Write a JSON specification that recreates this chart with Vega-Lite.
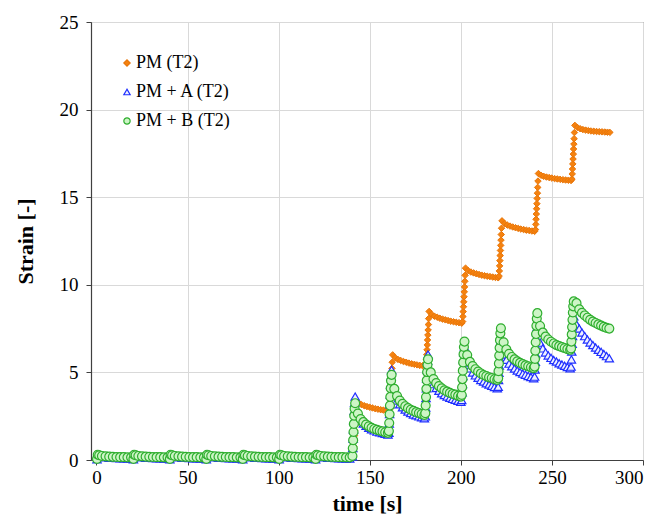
{
"$schema":"https://vega.github.io/schema/vega-lite/v6.json",
"autosize":{"type":"none"},
"padding":{"left":91,"top":22,"right":14,"bottom":62},
"width":552,"height":438,
"background":"white",
"config":{
"font":"Liberation Serif",
"view":{"stroke":"#595959","strokeWidth":1},
"axis":{"labelFont":"Liberation Serif","titleFont":"Liberation Serif","labelFontSize":19,"titleFontSize":22,"labelColor":"#000","titleColor":"#000","gridColor":"#d9d9d9","gridWidth":1,"domainColor":"#404040","tickColor":"#404040","tickSize":5,"domainWidth":1.2,"titleFontWeight":"bold"},
"legend":{"orient":"none","legendX":27,"legendY":32,"labelFontSize":18,"labelFont":"Liberation Serif","labelColor":"#000","padding":0,"rowPadding":11,"symbolSize":40,"symbolStrokeWidth":1.2,"labelOffset":0,"title":null}
},
"encoding":{
"x":{"field":"t","type":"quantitative","scale":{"domain":[-3,300],"nice":false,"zero":false},"axis":{"values":[0,50,100,150,200,250,300],"title":"time [s]","labelPadding":3,"titlePadding":6,"gridOpacity":{"condition":{"test":"datum.value == 0","value":0},"value":1}}},
"y":{"field":"v","type":"quantitative","scale":{"domain":[0,25],"nice":false},"axis":{"values":[0,5,10,15,20,25],"title":"Strain [-]","labelPadding":8,"titlePadding":22}}
},
"layer":[
{"data":{"values":[
{"t":0.5,"v":0.05},{"t":1.5,"v":0.2},{"t":5,"v":0.15},{"t":10,"v":0.12},{"t":15,"v":0.11},{"t":19,"v":0.1},
{"t":20.5,"v":0.05},{"t":21.5,"v":0.2},{"t":25,"v":0.15},{"t":30,"v":0.12},{"t":35,"v":0.11},{"t":39,"v":0.1},
{"t":40.5,"v":0.05},{"t":41.5,"v":0.2},{"t":45,"v":0.15},{"t":50,"v":0.12},{"t":55,"v":0.11},{"t":59,"v":0.1},
{"t":60.5,"v":0.05},{"t":61.5,"v":0.2},{"t":65,"v":0.15},{"t":70,"v":0.12},{"t":75,"v":0.11},{"t":79,"v":0.1},
{"t":80.5,"v":0.05},{"t":81.5,"v":0.2},{"t":85,"v":0.15},{"t":90,"v":0.12},{"t":95,"v":0.11},{"t":99,"v":0.1},
{"t":100.5,"v":0.05},{"t":101.5,"v":0.2},{"t":105,"v":0.15},{"t":110,"v":0.12},{"t":115,"v":0.11},{"t":119,"v":0.1},
{"t":120.5,"v":0.05},{"t":121.5,"v":0.2},{"t":125,"v":0.15},{"t":130,"v":0.12},{"t":135,"v":0.11},{"t":139,"v":0.1},
{"t":141,"v":0.2},{"t":141.15,"v":0.5},{"t":141.3,"v":0.79},{"t":141.45,"v":1.09},{"t":141.6,"v":1.39},{"t":141.75,"v":1.68},{"t":141.9,"v":1.98},{"t":142.05,"v":2.28},{"t":142.2,"v":2.61},{"t":142.35,"v":2.97},{"t":142.6,"v":3.4},
{"t":144,"v":3.25},{"t":145.5,"v":3.16},{"t":147,"v":3.1},{"t":148.5,"v":3.05},{"t":150,"v":3.01},{"t":151.5,"v":2.97},{"t":153,"v":2.93},{"t":154.5,"v":2.9},{"t":156,"v":2.87},{"t":157.5,"v":2.85},{"t":159,"v":2.82},{"t":160.5,"v":2.8},
{"t":161,"v":2.9},{"t":161.15,"v":3.18},{"t":161.3,"v":3.47},{"t":161.45,"v":3.76},{"t":161.6,"v":4.05},{"t":161.75,"v":4.34},{"t":161.9,"v":4.62},{"t":162.05,"v":4.91},{"t":162.2,"v":5.23},{"t":162.35,"v":5.58},{"t":162.6,"v":6.0},
{"t":164,"v":5.84},{"t":165.5,"v":5.74},{"t":167,"v":5.68},{"t":168.5,"v":5.62},{"t":170,"v":5.58},{"t":171.5,"v":5.53},{"t":173,"v":5.49},{"t":174.5,"v":5.46},{"t":176,"v":5.43},{"t":177.5,"v":5.4},{"t":179,"v":5.38},{"t":180.5,"v":5.35},
{"t":181,"v":5.44},{"t":181.15,"v":5.73},{"t":181.3,"v":6.01},{"t":181.45,"v":6.29},{"t":181.6,"v":6.57},{"t":181.75,"v":6.85},{"t":181.9,"v":7.13},{"t":182.05,"v":7.42},{"t":182.2,"v":7.73},{"t":182.35,"v":8.07},{"t":182.6,"v":8.48},
{"t":184,"v":8.31},{"t":185.5,"v":8.21},{"t":187,"v":8.15},{"t":188.5,"v":8.09},{"t":190,"v":8.04},{"t":191.5,"v":8.0},{"t":193,"v":7.96},{"t":194.5,"v":7.92},{"t":196,"v":7.89},{"t":197.5,"v":7.86},{"t":199,"v":7.84},{"t":200.5,"v":7.81},
{"t":201,"v":7.9},{"t":201.15,"v":8.19},{"t":201.3,"v":8.47},{"t":201.45,"v":8.75},{"t":201.6,"v":9.03},{"t":201.75,"v":9.32},{"t":201.9,"v":9.6},{"t":202.05,"v":9.88},{"t":202.2,"v":10.2},{"t":202.35,"v":10.54},{"t":202.6,"v":10.95},
{"t":204,"v":10.81},{"t":205.5,"v":10.73},{"t":207,"v":10.68},{"t":208.5,"v":10.63},{"t":210,"v":10.59},{"t":211.5,"v":10.55},{"t":213,"v":10.52},{"t":214.5,"v":10.49},{"t":216,"v":10.47},{"t":217.5,"v":10.44},{"t":219,"v":10.42},{"t":220.5,"v":10.4},
{"t":221,"v":10.5},{"t":221.15,"v":10.79},{"t":221.3,"v":11.08},{"t":221.45,"v":11.38},{"t":221.6,"v":11.67},{"t":221.75,"v":11.96},{"t":221.9,"v":12.25},{"t":222.05,"v":12.55},{"t":222.2,"v":12.87},{"t":222.35,"v":13.23},{"t":222.6,"v":13.65},
{"t":224,"v":13.5},{"t":225.5,"v":13.41},{"t":227,"v":13.35},{"t":228.5,"v":13.3},{"t":230,"v":13.26},{"t":231.5,"v":13.22},{"t":233,"v":13.18},{"t":234.5,"v":13.15},{"t":236,"v":13.12},{"t":237.5,"v":13.1},{"t":239,"v":13.07},{"t":240.5,"v":13.05},
{"t":241,"v":13.15},{"t":241.15,"v":13.45},{"t":241.3,"v":13.74},{"t":241.45,"v":14.04},{"t":241.6,"v":14.34},{"t":241.75,"v":14.63},{"t":241.9,"v":14.93},{"t":242.05,"v":15.23},{"t":242.2,"v":15.56},{"t":242.35,"v":15.92},{"t":242.6,"v":16.35},
{"t":244,"v":16.25},{"t":245.5,"v":16.19},{"t":247,"v":16.15},{"t":248.5,"v":16.12},{"t":250,"v":16.09},{"t":251.5,"v":16.06},{"t":253,"v":16.04},{"t":254.5,"v":16.02},{"t":256,"v":16.0},{"t":257.5,"v":15.98},{"t":259,"v":15.97},{"t":260.5,"v":15.95},
{"t":261,"v":16.04},{"t":261.15,"v":16.33},{"t":261.3,"v":16.61},{"t":261.45,"v":16.9},{"t":261.6,"v":17.18},{"t":261.75,"v":17.46},{"t":261.9,"v":17.75},{"t":262.05,"v":18.03},{"t":262.2,"v":18.34},{"t":262.35,"v":18.69},{"t":262.6,"v":19.1},
{"t":264,"v":18.98},{"t":265.5,"v":18.91},{"t":267,"v":18.86},{"t":268.5,"v":18.83},{"t":270,"v":18.8},{"t":271.5,"v":18.78},{"t":273,"v":18.76},{"t":274.5,"v":18.75},{"t":276,"v":18.74},{"t":277.5,"v":18.73},{"t":279,"v":18.72},{"t":280.5,"v":18.71},{"t":281.8,"v":18.7}
]},
"mark":{"type":"point","filled":true,"opacity":1,"strokeWidth":1,"size":42},
"encoding":{
"fill":{"datum":"PM (T2)","type":"nominal","scale":{"domain":["PM (T2)","PM + A (T2)","PM + B (T2)"],"range":["#f5820f","#eef0ff","#cdf5c6"]}},
"stroke":{"datum":"PM (T2)","type":"nominal","scale":{"domain":["PM (T2)","PM + A (T2)","PM + B (T2)"],"range":["#e8760a","#1f2fff","#2fae2f"]}},
"shape":{"datum":"PM (T2)","type":"nominal","scale":{"domain":["PM (T2)","PM + A (T2)","PM + B (T2)"],"range":["diamond","triangle-up","circle"]}}
}},
{"data":{"values":[
{"t":0.3,"v":0.04},{"t":0.7,"v":0.26},{"t":1.5,"v":0.22},{"t":3,"v":0.18},{"t":5,"v":0.15},{"t":7,"v":0.13},{"t":9,"v":0.12},{"t":11,"v":0.11},{"t":13,"v":0.1},{"t":15,"v":0.1},{"t":17,"v":0.09},{"t":19,"v":0.09},
{"t":20.3,"v":0.04},{"t":20.7,"v":0.26},{"t":21.5,"v":0.22},{"t":23,"v":0.18},{"t":25,"v":0.15},{"t":27,"v":0.13},{"t":29,"v":0.12},{"t":31,"v":0.11},{"t":33,"v":0.1},{"t":35,"v":0.1},{"t":37,"v":0.09},{"t":39,"v":0.09},
{"t":40.3,"v":0.04},{"t":40.7,"v":0.26},{"t":41.5,"v":0.22},{"t":43,"v":0.18},{"t":45,"v":0.15},{"t":47,"v":0.13},{"t":49,"v":0.12},{"t":51,"v":0.11},{"t":53,"v":0.1},{"t":55,"v":0.1},{"t":57,"v":0.09},{"t":59,"v":0.09},
{"t":60.3,"v":0.04},{"t":60.7,"v":0.26},{"t":61.5,"v":0.22},{"t":63,"v":0.18},{"t":65,"v":0.15},{"t":67,"v":0.13},{"t":69,"v":0.12},{"t":71,"v":0.11},{"t":73,"v":0.1},{"t":75,"v":0.1},{"t":77,"v":0.09},{"t":79,"v":0.09},
{"t":80.3,"v":0.04},{"t":80.7,"v":0.26},{"t":81.5,"v":0.22},{"t":83,"v":0.18},{"t":85,"v":0.15},{"t":87,"v":0.13},{"t":89,"v":0.12},{"t":91,"v":0.11},{"t":93,"v":0.1},{"t":95,"v":0.1},{"t":97,"v":0.09},{"t":99,"v":0.09},
{"t":100.3,"v":0.04},{"t":100.7,"v":0.26},{"t":101.5,"v":0.22},{"t":103,"v":0.18},{"t":105,"v":0.15},{"t":107,"v":0.13},{"t":109,"v":0.12},{"t":111,"v":0.11},{"t":113,"v":0.1},{"t":115,"v":0.1},{"t":117,"v":0.09},{"t":119,"v":0.09},
{"t":120.3,"v":0.04},{"t":120.7,"v":0.26},{"t":121.5,"v":0.22},{"t":123,"v":0.18},{"t":125,"v":0.15},{"t":127,"v":0.13},{"t":129,"v":0.12},{"t":131,"v":0.11},{"t":133,"v":0.1},{"t":135,"v":0.1},{"t":137,"v":0.09},{"t":139,"v":0.09},
{"t":140.5,"v":0.2},{"t":140.7,"v":0.69},{"t":140.9,"v":1.22},{"t":141.1,"v":1.75},{"t":141.3,"v":2.28},{"t":141.5,"v":2.81},{"t":141.7,"v":3.27},{"t":142,"v":3.62},
{"t":143.5,"v":2.54},{"t":145,"v":2.25},{"t":146.5,"v":2.08},{"t":148,"v":1.95},{"t":149.5,"v":1.84},{"t":151,"v":1.75},{"t":152.5,"v":1.69},{"t":154,"v":1.62},{"t":155.5,"v":1.58},{"t":157,"v":1.54},{"t":158.5,"v":1.49},{"t":160,"v":1.45},
{"t":160.5,"v":1.56},{"t":160.7,"v":2.08},{"t":160.9,"v":2.63},{"t":161.1,"v":3.18},{"t":161.3,"v":3.74},{"t":161.5,"v":4.29},{"t":161.7,"v":4.77},{"t":162,"v":5.14},
{"t":163.5,"v":3.76},{"t":165,"v":3.4},{"t":166.5,"v":3.18},{"t":168,"v":3.01},{"t":169.5,"v":2.88},{"t":171,"v":2.77},{"t":172.5,"v":2.68},{"t":174,"v":2.6},{"t":175.5,"v":2.55},{"t":177,"v":2.49},{"t":178.5,"v":2.44},{"t":180,"v":2.38},
{"t":180.5,"v":2.49},{"t":180.7,"v":3.0},{"t":180.9,"v":3.54},{"t":181.1,"v":4.09},{"t":181.3,"v":4.64},{"t":181.5,"v":5.18},{"t":181.7,"v":5.66},{"t":182,"v":6.02},
{"t":183.5,"v":4.68},{"t":185,"v":4.33},{"t":186.5,"v":4.11},{"t":188,"v":3.95},{"t":189.5,"v":3.81},{"t":191,"v":3.71},{"t":192.5,"v":3.63},{"t":194,"v":3.55},{"t":195.5,"v":3.49},{"t":197,"v":3.44},{"t":198.5,"v":3.38},{"t":200,"v":3.33},
{"t":200.5,"v":3.42},{"t":200.7,"v":3.86},{"t":200.9,"v":4.33},{"t":201.1,"v":4.8},{"t":201.3,"v":5.26},{"t":201.5,"v":5.73},{"t":201.7,"v":6.14},{"t":202,"v":6.45},
{"t":203.5,"v":5.56},{"t":205,"v":5.23},{"t":206.5,"v":4.99},{"t":208,"v":4.83},{"t":209.5,"v":4.69},{"t":211,"v":4.57},{"t":212.5,"v":4.48},{"t":214,"v":4.38},{"t":215.5,"v":4.31},{"t":217,"v":4.24},{"t":218.5,"v":4.17},{"t":220,"v":4.1},
{"t":220.5,"v":4.18},{"t":220.7,"v":4.57},{"t":220.9,"v":4.98},{"t":221.1,"v":5.39},{"t":221.3,"v":5.81},{"t":221.5,"v":6.22},{"t":221.7,"v":6.58},{"t":222,"v":6.85},
{"t":223.5,"v":6.02},{"t":225,"v":5.72},{"t":226.5,"v":5.5},{"t":228,"v":5.35},{"t":229.5,"v":5.22},{"t":231,"v":5.11},{"t":232.5,"v":5.02},{"t":234,"v":4.93},{"t":235.5,"v":4.87},{"t":237,"v":4.8},{"t":238.5,"v":4.74},{"t":240,"v":4.67},
{"t":240.5,"v":4.76},{"t":240.7,"v":5.17},{"t":240.9,"v":5.61},{"t":241.1,"v":6.05},{"t":241.3,"v":6.49},{"t":241.5,"v":6.93},{"t":241.7,"v":7.31},{"t":242,"v":7.6},
{"t":243.5,"v":6.7},{"t":245,"v":6.37},{"t":246.5,"v":6.14},{"t":248,"v":5.97},{"t":249.5,"v":5.83},{"t":251,"v":5.71},{"t":252.5,"v":5.62},{"t":254,"v":5.52},{"t":255.5,"v":5.45},{"t":257,"v":5.38},{"t":258.5,"v":5.31},{"t":260,"v":5.24},
{"t":260.5,"v":5.33},{"t":260.7,"v":5.74},{"t":260.9,"v":6.19},{"t":261.1,"v":6.63},{"t":261.3,"v":7.08},{"t":261.5,"v":7.52},{"t":261.7,"v":7.9},{"t":262,"v":8.2},
{"t":263.5,"v":7.75},{"t":265,"v":7.5},{"t":266.5,"v":7.28},{"t":268,"v":7.07},{"t":269.5,"v":6.88},{"t":271,"v":6.71},{"t":272.5,"v":6.56},{"t":274,"v":6.42},{"t":275.5,"v":6.29},{"t":277,"v":6.17},{"t":278.5,"v":6.05},{"t":280,"v":5.93},{"t":281.5,"v":5.81}
]},
"mark":{"type":"point","filled":true,"opacity":1,"strokeWidth":1.2,"size":70},
"encoding":{
"fill":{"datum":"PM + A (T2)","type":"nominal","scale":{"domain":["PM (T2)","PM + A (T2)","PM + B (T2)"],"range":["#f5820f","#eef0ff","#cdf5c6"]}},
"stroke":{"datum":"PM + A (T2)","type":"nominal","scale":{"domain":["PM (T2)","PM + A (T2)","PM + B (T2)"],"range":["#e8760a","#1f2fff","#2fae2f"]}},
"shape":{"datum":"PM + A (T2)","type":"nominal","scale":{"domain":["PM (T2)","PM + A (T2)","PM + B (T2)"],"range":["diamond","triangle-up","circle"]}}
}},
{"data":{"values":[
{"t":0.3,"v":0.06},{"t":0.7,"v":0.3},{"t":1.5,"v":0.27},{"t":3,"v":0.23},{"t":5,"v":0.21},{"t":7,"v":0.19},{"t":9,"v":0.18},{"t":11,"v":0.17},{"t":13,"v":0.16},{"t":15,"v":0.16},{"t":17,"v":0.15},{"t":19,"v":0.15},
{"t":20.3,"v":0.06},{"t":20.7,"v":0.3},{"t":21.5,"v":0.27},{"t":23,"v":0.23},{"t":25,"v":0.21},{"t":27,"v":0.19},{"t":29,"v":0.18},{"t":31,"v":0.17},{"t":33,"v":0.16},{"t":35,"v":0.16},{"t":37,"v":0.15},{"t":39,"v":0.15},
{"t":40.3,"v":0.06},{"t":40.7,"v":0.3},{"t":41.5,"v":0.27},{"t":43,"v":0.23},{"t":45,"v":0.21},{"t":47,"v":0.19},{"t":49,"v":0.18},{"t":51,"v":0.17},{"t":53,"v":0.16},{"t":55,"v":0.16},{"t":57,"v":0.15},{"t":59,"v":0.15},
{"t":60.3,"v":0.06},{"t":60.7,"v":0.3},{"t":61.5,"v":0.27},{"t":63,"v":0.23},{"t":65,"v":0.21},{"t":67,"v":0.19},{"t":69,"v":0.18},{"t":71,"v":0.17},{"t":73,"v":0.16},{"t":75,"v":0.16},{"t":77,"v":0.15},{"t":79,"v":0.15},
{"t":80.3,"v":0.06},{"t":80.7,"v":0.3},{"t":81.5,"v":0.27},{"t":83,"v":0.23},{"t":85,"v":0.21},{"t":87,"v":0.19},{"t":89,"v":0.18},{"t":91,"v":0.17},{"t":93,"v":0.16},{"t":95,"v":0.16},{"t":97,"v":0.15},{"t":99,"v":0.15},
{"t":100.3,"v":0.06},{"t":100.7,"v":0.3},{"t":101.5,"v":0.27},{"t":103,"v":0.23},{"t":105,"v":0.21},{"t":107,"v":0.19},{"t":109,"v":0.18},{"t":111,"v":0.17},{"t":113,"v":0.16},{"t":115,"v":0.16},{"t":117,"v":0.15},{"t":119,"v":0.15},
{"t":120.3,"v":0.06},{"t":120.7,"v":0.3},{"t":121.5,"v":0.27},{"t":123,"v":0.23},{"t":125,"v":0.21},{"t":127,"v":0.19},{"t":129,"v":0.18},{"t":131,"v":0.17},{"t":133,"v":0.16},{"t":135,"v":0.16},{"t":137,"v":0.15},{"t":139,"v":0.15},
{"t":140.5,"v":0.23},{"t":140.7,"v":0.67},{"t":140.9,"v":1.13},{"t":141.1,"v":1.6},{"t":141.3,"v":2.06},{"t":141.5,"v":2.53},{"t":141.7,"v":2.93},{"t":142,"v":3.24},
{"t":143.5,"v":2.65},{"t":145,"v":2.34},{"t":146.5,"v":2.16},{"t":148,"v":2.02},{"t":149.5,"v":1.92},{"t":151,"v":1.84},{"t":152.5,"v":1.77},{"t":154,"v":1.72},{"t":155.5,"v":1.67},{"t":157,"v":1.63},{"t":158.5,"v":1.58},{"t":160,"v":1.55},
{"t":160.5,"v":1.65},{"t":160.7,"v":2.11},{"t":160.9,"v":2.61},{"t":161.1,"v":3.11},{"t":161.3,"v":3.6},{"t":161.5,"v":4.1},{"t":161.7,"v":4.53},{"t":162,"v":4.86},
{"t":163.5,"v":4.06},{"t":165,"v":3.65},{"t":166.5,"v":3.39},{"t":168,"v":3.21},{"t":169.5,"v":3.07},{"t":171,"v":2.96},{"t":172.5,"v":2.87},{"t":174,"v":2.8},{"t":175.5,"v":2.73},{"t":177,"v":2.68},{"t":178.5,"v":2.62},{"t":180,"v":2.57},
{"t":180.5,"v":2.67},{"t":180.7,"v":3.11},{"t":180.9,"v":3.59},{"t":181.1,"v":4.06},{"t":181.3,"v":4.54},{"t":181.5,"v":5.02},{"t":181.7,"v":5.43},{"t":182,"v":5.75},
{"t":183.5,"v":5.0},{"t":185,"v":4.62},{"t":186.5,"v":4.39},{"t":188,"v":4.22},{"t":189.5,"v":4.09},{"t":191,"v":3.98},{"t":192.5,"v":3.9},{"t":194,"v":3.83},{"t":195.5,"v":3.77},{"t":197,"v":3.73},{"t":198.5,"v":3.66},{"t":200,"v":3.62},
{"t":200.5,"v":3.71},{"t":200.7,"v":4.15},{"t":200.9,"v":4.62},{"t":201.1,"v":5.1},{"t":201.3,"v":5.57},{"t":201.5,"v":6.04},{"t":201.7,"v":6.45},{"t":202,"v":6.76},
{"t":203.5,"v":5.99},{"t":205,"v":5.6},{"t":206.5,"v":5.36},{"t":208,"v":5.18},{"t":209.5,"v":5.05},{"t":211,"v":4.94},{"t":212.5,"v":4.85},{"t":214,"v":4.79},{"t":215.5,"v":4.72},{"t":217,"v":4.68},{"t":218.5,"v":4.61},{"t":220,"v":4.57},
{"t":220.5,"v":4.66},{"t":220.7,"v":5.07},{"t":220.9,"v":5.51},{"t":221.1,"v":5.96},{"t":221.3,"v":6.4},{"t":221.5,"v":6.84},{"t":221.7,"v":7.23},{"t":222,"v":7.52},
{"t":223.5,"v":6.72},{"t":225,"v":6.31},{"t":226.5,"v":6.06},{"t":228,"v":5.88},{"t":229.5,"v":5.74},{"t":231,"v":5.63},{"t":232.5,"v":5.54},{"t":234,"v":5.47},{"t":235.5,"v":5.4},{"t":237,"v":5.35},{"t":238.5,"v":5.29},{"t":240,"v":5.24},
{"t":240.5,"v":5.33},{"t":240.7,"v":5.77},{"t":240.9,"v":6.24},{"t":241.1,"v":6.72},{"t":241.3,"v":7.19},{"t":241.5,"v":7.66},{"t":241.7,"v":8.07},{"t":242,"v":8.38},
{"t":243.5,"v":7.65},{"t":245,"v":7.27},{"t":246.5,"v":7.04},{"t":248,"v":6.88},{"t":249.5,"v":6.75},{"t":251,"v":6.65},{"t":252.5,"v":6.56},{"t":254,"v":6.5},{"t":255.5,"v":6.44},{"t":257,"v":6.39},{"t":258.5,"v":6.33},{"t":260,"v":6.29},
{"t":260.5,"v":6.37},{"t":260.7,"v":6.76},{"t":260.9,"v":7.17},{"t":261.1,"v":7.59},{"t":261.3,"v":8.0},{"t":261.5,"v":8.42},{"t":261.7,"v":8.77},{"t":262,"v":9.05},
{"t":263.5,"v":8.95},{"t":265,"v":8.6},{"t":266.5,"v":8.4},{"t":268,"v":8.25},{"t":269.5,"v":8.12},{"t":271,"v":8.0},{"t":272.5,"v":7.9},{"t":274,"v":7.82},{"t":275.5,"v":7.74},{"t":277,"v":7.67},{"t":278.5,"v":7.6},{"t":280,"v":7.54},{"t":281.5,"v":7.5}
]},
"mark":{"type":"point","filled":true,"opacity":1,"strokeWidth":1.2,"size":80},
"encoding":{
"fill":{"datum":"PM + B (T2)","type":"nominal","scale":{"domain":["PM (T2)","PM + A (T2)","PM + B (T2)"],"range":["#f5820f","#eef0ff","#cdf5c6"]}},
"stroke":{"datum":"PM + B (T2)","type":"nominal","scale":{"domain":["PM (T2)","PM + A (T2)","PM + B (T2)"],"range":["#e8760a","#1f2fff","#2fae2f"]}},
"shape":{"datum":"PM + B (T2)","type":"nominal","scale":{"domain":["PM (T2)","PM + A (T2)","PM + B (T2)"],"range":["diamond","triangle-up","circle"]}}
}}
]
}
